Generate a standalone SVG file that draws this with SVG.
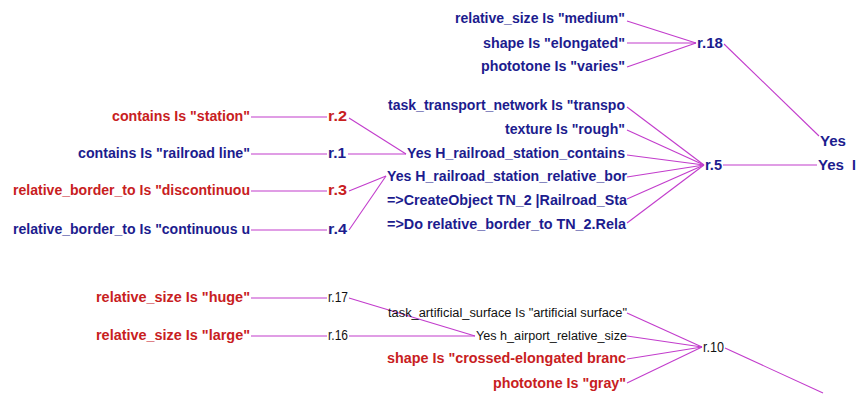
<svg xmlns="http://www.w3.org/2000/svg" width="858" height="394" viewBox="0 0 858 394">
<defs>
<style>
.b{font-family:"Liberation Sans",Arial,sans-serif;font-weight:bold;font-size:14px;fill:#1c1c8e}
.r{font-family:"Liberation Sans",Arial,sans-serif;font-weight:bold;font-size:14px;fill:#c8201e}
.k{font-family:"Liberation Sans",Arial,sans-serif;font-size:12.5px;fill:#111}
.kr{font-family:"Liberation Sans",Arial,sans-serif;font-size:14px;fill:#111}
.c{stroke:#c23ccc;stroke-width:1.1;fill:none}
</style>
</defs>
<rect width="858" height="394" fill="#fff"/>
<g id="connectors">
<line class="c" x1="627" y1="21" x2="696" y2="43"/>
<line class="c" x1="627" y1="43" x2="696" y2="43"/>
<line class="c" x1="627" y1="67" x2="696" y2="43"/>
<line class="c" x1="724" y1="44" x2="819" y2="136"/>
<line class="c" x1="251" y1="117" x2="327" y2="117"/>
<line class="c" x1="251" y1="154" x2="327" y2="154"/>
<line class="c" x1="251" y1="191" x2="327" y2="191"/>
<line class="c" x1="251" y1="230" x2="327" y2="230"/>
<line class="c" x1="349" y1="118" x2="406" y2="154"/>
<line class="c" x1="348" y1="154" x2="406" y2="154"/>
<line class="c" x1="349" y1="191" x2="386" y2="176"/>
<line class="c" x1="349" y1="230" x2="386" y2="176"/>
<line class="c" x1="627" y1="107" x2="704" y2="165"/>
<line class="c" x1="627" y1="130" x2="704" y2="165"/>
<line class="c" x1="627" y1="155" x2="704" y2="165"/>
<line class="c" x1="627" y1="177" x2="704" y2="165"/>
<line class="c" x1="627" y1="199" x2="704" y2="165"/>
<line class="c" x1="627" y1="223" x2="704" y2="165"/>
<line class="c" x1="723" y1="165" x2="817" y2="165"/>
<line class="c" x1="251" y1="298" x2="327" y2="298"/>
<line class="c" x1="251" y1="336" x2="327" y2="336"/>
<line class="c" x1="349" y1="298" x2="475" y2="336"/>
<line class="c" x1="349" y1="336" x2="475" y2="336"/>
<line class="c" x1="627" y1="313" x2="702" y2="347"/>
<line class="c" x1="627" y1="336" x2="702" y2="347"/>
<line class="c" x1="627" y1="359" x2="702" y2="347"/>
<line class="c" x1="627" y1="383" x2="702" y2="347"/>
<line class="c" x1="725" y1="348" x2="823" y2="393"/>
</g>
<g id="n-rel-size-medium"><text class="b" x="455" y="23" textLength="170" lengthAdjust="spacingAndGlyphs">relative_size Is "medium"</text></g>
<g id="n-shape-elongated"><text class="b" x="483" y="48" textLength="142" lengthAdjust="spacingAndGlyphs">shape Is "elongated"</text></g>
<g id="n-phototone-varies"><text class="b" x="481" y="71" textLength="144" lengthAdjust="spacingAndGlyphs">phototone Is "varies"</text></g>
<g id="n-r18"><text class="b" x="697" y="48" textLength="26" lengthAdjust="spacingAndGlyphs">r.18</text></g>
<g id="n-yes-top"><text class="b" x="820" y="146" textLength="26" lengthAdjust="spacingAndGlyphs">Yes</text></g>

<g id="n-contains-station"><text class="r" x="112" y="121" textLength="138" lengthAdjust="spacingAndGlyphs">contains Is "station"</text></g>
<g id="n-contains-railroad"><text class="b" x="78" y="158" textLength="172" lengthAdjust="spacingAndGlyphs">contains Is "railroad line"</text></g>
<g id="n-border-discont"><text class="r" x="13" y="195" textLength="237" lengthAdjust="spacingAndGlyphs">relative_border_to Is "discontinuou</text></g>
<g id="n-border-cont"><text class="b" x="13" y="234" textLength="237" lengthAdjust="spacingAndGlyphs">relative_border_to Is "continuous u</text></g>
<g id="n-r2"><text class="r" x="328" y="121" textLength="19" lengthAdjust="spacingAndGlyphs">r.2</text></g>
<g id="n-r1"><text class="b" x="328" y="158" textLength="18" lengthAdjust="spacingAndGlyphs">r.1</text></g>
<g id="n-r3"><text class="r" x="328" y="195" textLength="19" lengthAdjust="spacingAndGlyphs">r.3</text></g>
<g id="n-r4"><text class="b" x="328" y="234" textLength="19" lengthAdjust="spacingAndGlyphs">r.4</text></g>

<g id="n-task-transport"><text class="b" x="388" y="110" textLength="237" lengthAdjust="spacingAndGlyphs">task_transport_network Is "transpo</text></g>
<g id="n-texture-rough"><text class="b" x="505" y="134" textLength="120" lengthAdjust="spacingAndGlyphs">texture Is "rough"</text></g>
<g id="n-yes-contains"><text class="b" x="407" y="158" textLength="218" lengthAdjust="spacingAndGlyphs">Yes H_railroad_station_contains</text></g>
<g id="n-yes-relborder"><text class="b" x="387" y="181" textLength="240" lengthAdjust="spacingAndGlyphs">Yes H_railroad_station_relative_bor</text></g>
<g id="n-createobject"><text class="b" x="387" y="205" textLength="240" lengthAdjust="spacingAndGlyphs">=&gt;CreateObject TN_2 |Railroad_Sta</text></g>
<g id="n-do-relborder"><text class="b" x="387" y="229" textLength="239" lengthAdjust="spacingAndGlyphs">=&gt;Do relative_border_to TN_2.Rela</text></g>
<g id="n-r5"><text class="b" x="705" y="170" textLength="17" lengthAdjust="spacingAndGlyphs">r.5</text></g>
<g id="n-yes-right"><text class="b" x="818" y="170" textLength="26" lengthAdjust="spacingAndGlyphs">Yes</text><text class="b" x="852" y="170">I</text></g>

<g id="n-rel-size-huge"><text class="r" x="96" y="302" textLength="154" lengthAdjust="spacingAndGlyphs">relative_size Is "huge"</text></g>
<g id="n-rel-size-large"><text class="r" x="96" y="340" textLength="154" lengthAdjust="spacingAndGlyphs">relative_size Is "large"</text></g>
<g id="n-r17"><text class="kr" x="328" y="302" textLength="20" lengthAdjust="spacingAndGlyphs">r.17</text></g>
<g id="n-r16"><text class="kr" x="328" y="340" textLength="20" lengthAdjust="spacingAndGlyphs">r.16</text></g>
<g id="n-task-artificial"><text class="k" x="388" y="317" textLength="239" lengthAdjust="spacingAndGlyphs">task_artificial_surface Is "artificial surface"</text></g>
<g id="n-yes-airport"><text class="k" x="476" y="340" textLength="151" lengthAdjust="spacingAndGlyphs">Yes h_airport_relative_size</text></g>
<g id="n-shape-crossed"><text class="r" x="387" y="363" textLength="239" lengthAdjust="spacingAndGlyphs">shape Is "crossed-elongated branc</text></g>
<g id="n-phototone-gray"><text class="r" x="493" y="388" textLength="133" lengthAdjust="spacingAndGlyphs">phototone Is "gray"</text></g>
<g id="n-r10"><text class="kr" x="703" y="352" textLength="21" lengthAdjust="spacingAndGlyphs">r.10</text></g>
</svg>
